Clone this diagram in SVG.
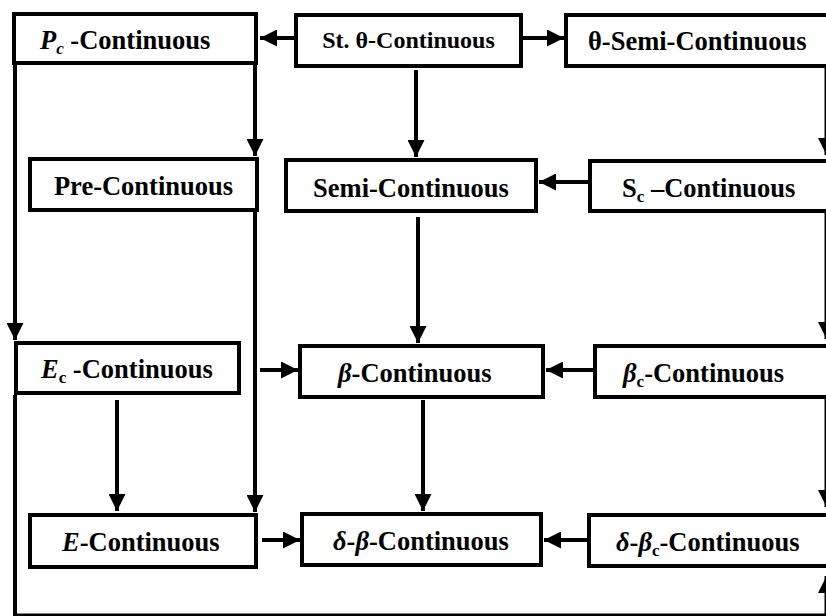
<svg xmlns="http://www.w3.org/2000/svg" width="826" height="616" viewBox="0 0 826 616">
<style>
.box{fill:#fff;stroke:#000;stroke-width:4}
.t{font-family:'Liberation Serif','DejaVu Serif',serif;font-weight:bold;font-size:26.5px;fill:#000}
.i{font-style:italic}
.s{font-size:17px}
.e{fill:none;stroke:#000;stroke-width:4}
</style>
<defs>
<marker id="ah" markerUnits="userSpaceOnUse" markerWidth="17" markerHeight="17" refX="16" refY="8" orient="auto" viewBox="0 0 16 16">
<path d="M0,0 L16,8 L0,16 z" fill="#000"/>
</marker>
</defs>
<rect width="826" height="616" fill="#fff"/>
<g id="connectors">
<path class="e" d="M294,38 H260" marker-end="url(#ah)"/>
<path class="e" d="M523,38 H564" marker-end="url(#ah)"/>
<path class="e" d="M416,70 V157" marker-end="url(#ah)"/>
<path class="e" d="M255,65 V156" marker-end="url(#ah)"/>
<path class="e" d="M15,65 V340" marker-end="url(#ah)"/>
<path class="e" d="M255,212 V512" marker-end="url(#ah)"/>
<path class="e" d="M260,370 H298" marker-end="url(#ah)"/>
<path class="e" d="M117,400 V511" marker-end="url(#ah)"/>
<path class="e" d="M262,540 H300" marker-end="url(#ah)"/>
<path class="e" d="M418,217 V343" marker-end="url(#ah)"/>
<path class="e" d="M588,182 H539" marker-end="url(#ah)"/>
<path class="e" d="M423,400 V511" marker-end="url(#ah)"/>
<path class="e" d="M593,370 H546" marker-end="url(#ah)"/>
<path class="e" d="M587,540 H544" marker-end="url(#ah)"/>
<path class="e" d="M15,395 V615.5 H826.5 V576" marker-end="url(#ah)"/>
<path class="e" d="M826.5,68 V155" marker-end="url(#ah)"/>
<path class="e" d="M826.5,213 V339" marker-end="url(#ah)"/>
<path class="e" d="M826.5,399 V507" marker-end="url(#ah)"/>
</g>
<g id="pc">
<rect class="box" x="14" y="14" width="242" height="49"/>
<text class="t" x="40" y="49"><tspan class="i">P</tspan><tspan class="i s" dy="5">c</tspan><tspan dy="-5"> -Continuous</tspan></text>
</g>
<g id="sttheta">
<rect class="box" x="296" y="15" width="225" height="51"/>
<text class="t" x="408.5" y="48" text-anchor="middle" style="font-size:24px">St. θ-Continuous</text>
</g>
<g id="thetasemi">
<rect class="box" x="566" y="15" width="300" height="51"/>
<text class="t" x="588" y="50">θ-Semi-Continuous</text>
</g>
<g id="pre">
<rect class="box" x="30" y="159" width="227" height="51"/>
<text class="t" x="143.5" y="195" text-anchor="middle">Pre-Continuous</text>
</g>
<g id="semi">
<rect class="box" x="286" y="160" width="250" height="51"/>
<text class="t" x="411" y="197" text-anchor="middle">Semi-Continuous</text>
</g>
<g id="sc">
<rect class="box" x="590" y="161" width="300" height="50"/>
<text class="t" x="622" y="197">S<tspan class="s" dy="5">c</tspan><tspan dy="-5"> –Continuous</tspan></text>
</g>
<g id="ec">
<rect class="box" x="16" y="343" width="223" height="50"/>
<text class="t" x="41" y="378"><tspan class="i">E</tspan><tspan class="s" dy="5">c</tspan><tspan dy="-5"> -Continuous</tspan></text>
</g>
<g id="beta">
<rect class="box" x="300" y="346" width="243" height="51"/>
<text class="t" x="338" y="382"><tspan class="i">β</tspan>-Continuous</text>
</g>
<g id="betac">
<rect class="box" x="595" y="346" width="300" height="51"/>
<text class="t" x="623" y="382"><tspan class="i">β</tspan><tspan class="s" dy="5">c</tspan><tspan dy="-5">-Continuous</tspan></text>
</g>
<g id="e">
<rect class="box" x="30" y="515" width="226" height="52"/>
<text class="t" x="62" y="551"><tspan class="i">E</tspan>-Continuous</text>
</g>
<g id="deltabeta">
<rect class="box" x="302" y="514" width="239" height="51"/>
<text class="t" x="333" y="550"><tspan class="i">δ</tspan>-<tspan class="i">β</tspan>-Continuous</text>
</g>
<g id="deltabetac">
<rect class="box" x="589" y="515" width="300" height="51"/>
<text class="t" x="616" y="551"><tspan class="i">δ</tspan>-<tspan class="i">β</tspan><tspan class="s" dy="5">c</tspan><tspan dy="-5">-Continuous</tspan></text>
</g>
</svg>
